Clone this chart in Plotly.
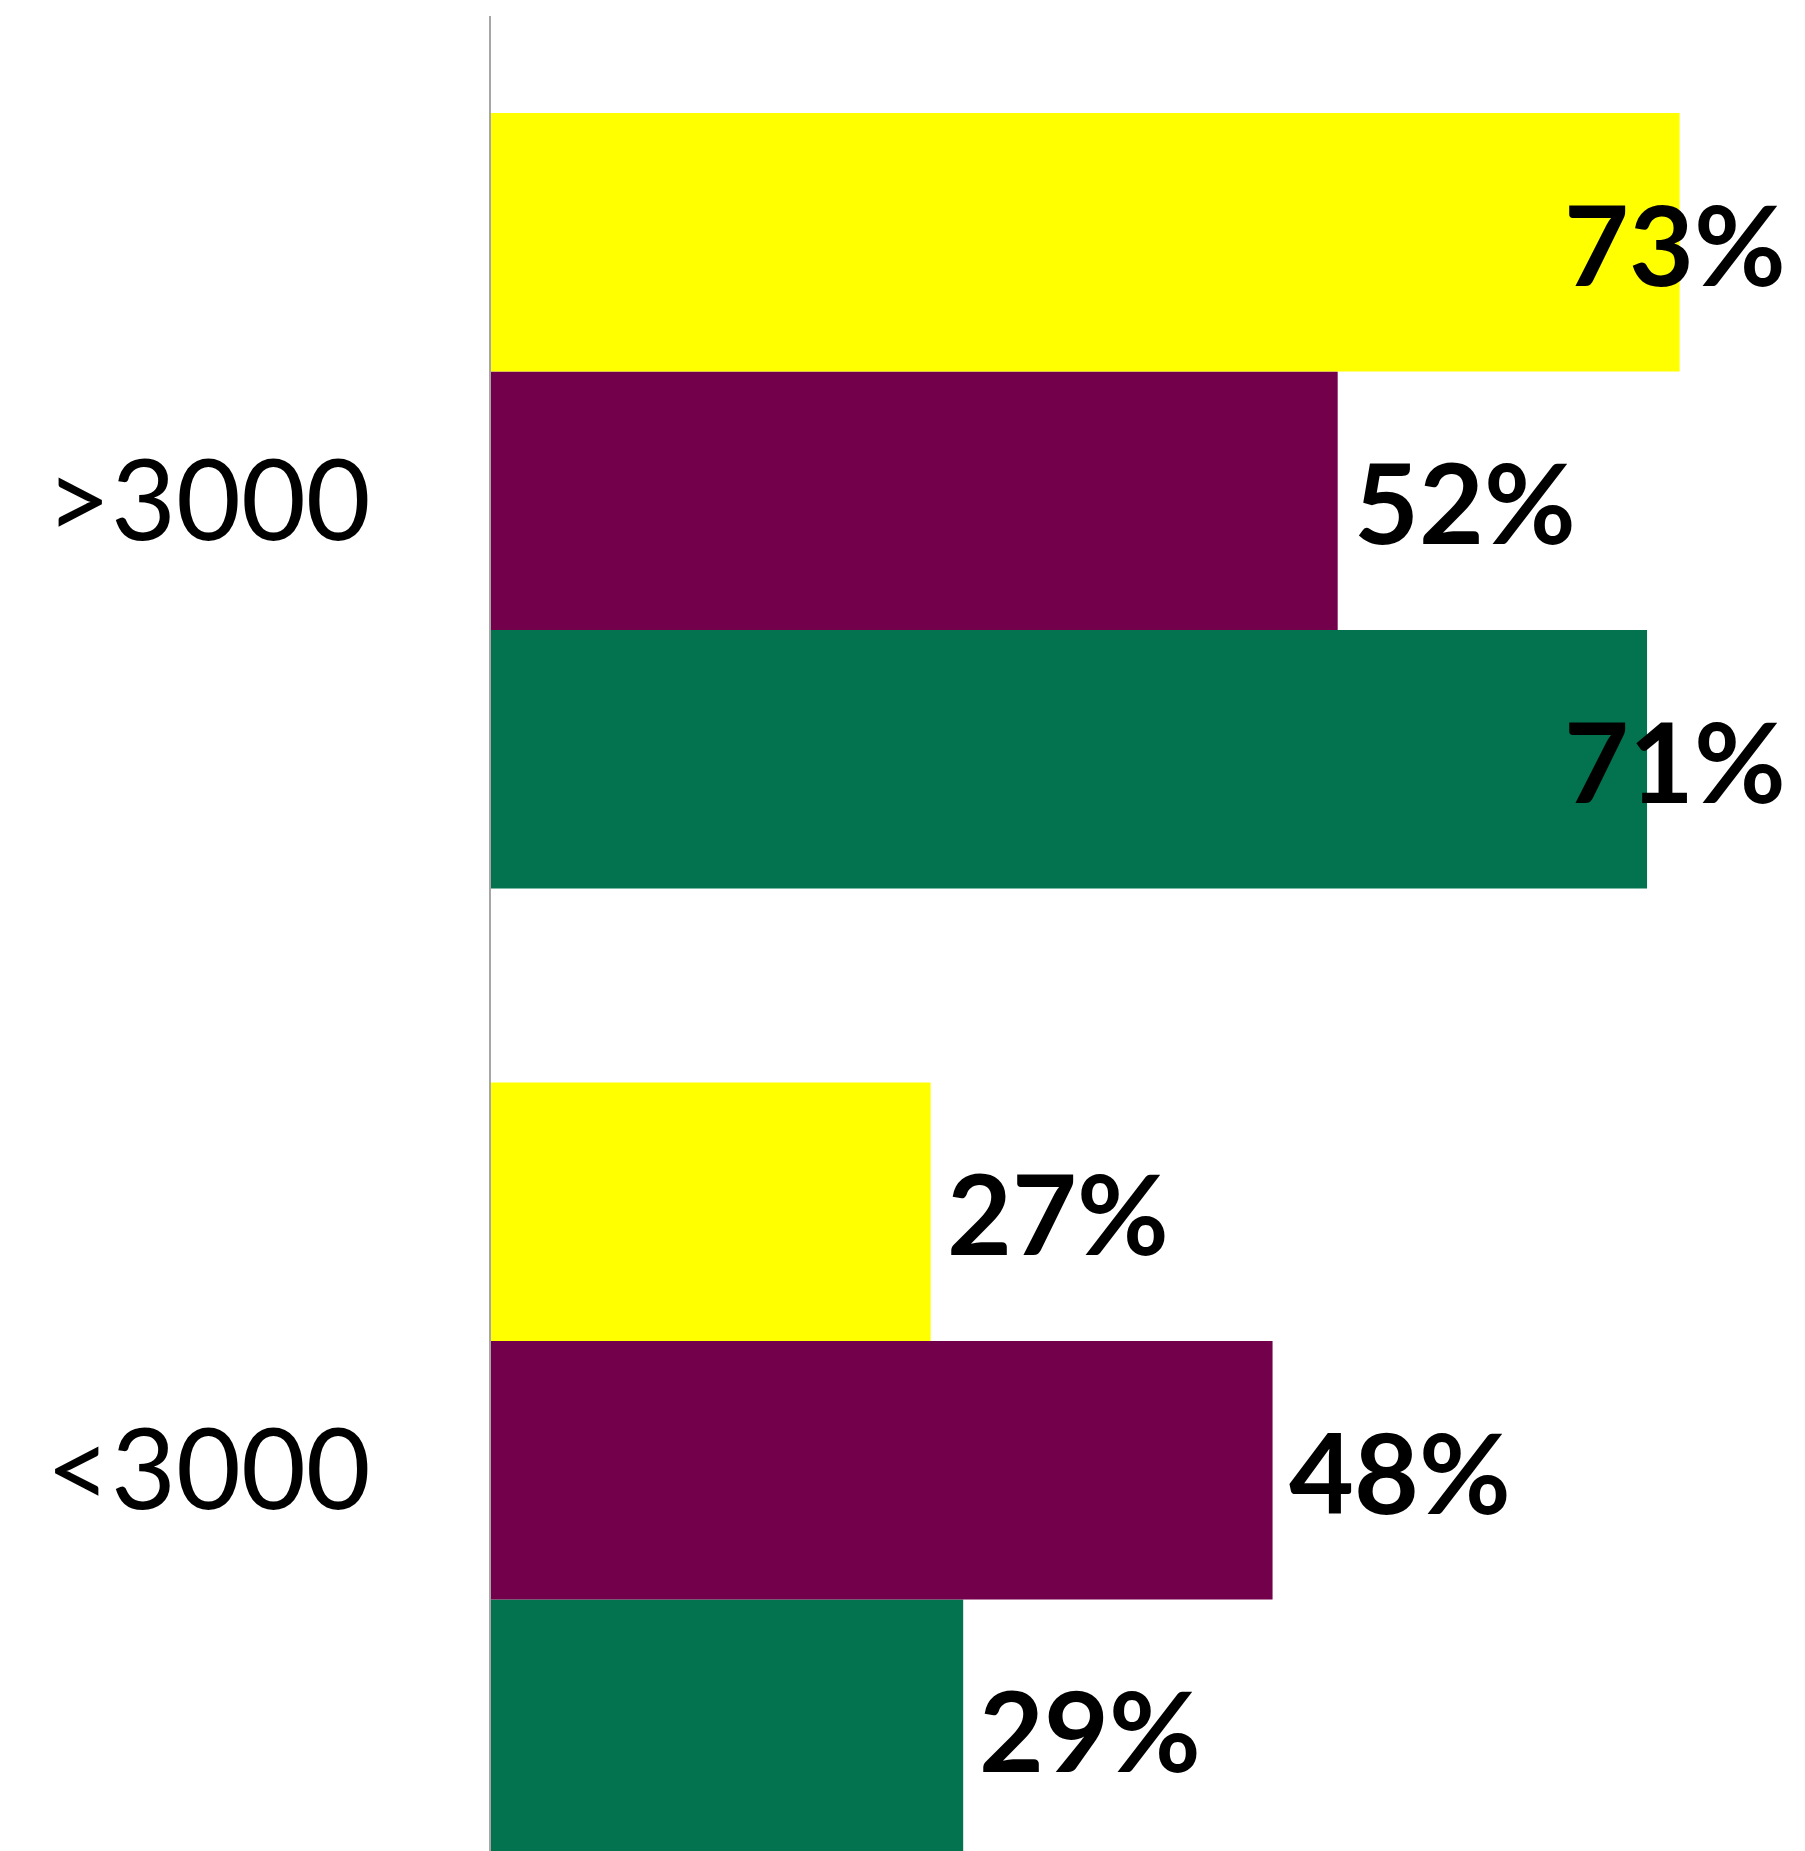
import plotly.graph_objects as go

categories = ["<3000", ">3000"]
series_names = ["Green", "Purple", "Yellow"]  # bottom-to-top within each group
series_values = {
    "Green": [29, 71],
    "Purple": [48, 52],
    "Yellow": [27, 73],
}
series_colors = {
    "Green": "#02734E",
    "Purple": "#72004A",
    "Yellow": "#FFFF00",
}

W, H = 1797, 1843
X_MAX = 80.7
BARGAP = 0.2
LABEL_SIZE = 112

fig = go.Figure()
for name in series_names:
    fig.add_trace(go.Bar(
        y=categories, x=series_values[name], orientation="h",
        marker=dict(color=series_colors[name], line=dict(width=0)),
        name=name, showlegend=False, hoverinfo="skip",
    ))

# value labels (Excel-style outside end, pulled inside when they would overflow)
n = len(series_names)
bar_w = (1 - BARGAP) / n
label_units = 14.5
annotations = []
for i, name in enumerate(series_names):
    offset = -(1 - BARGAP) / 2 + bar_w * (i + 0.5)
    for ci, cat in enumerate(categories):
        v = series_values[name][ci]
        txt = f"{v}%"
        if v + label_units > X_MAX:
            annotations.append(dict(x=X_MAX, y=ci + offset, xref="x", yref="y",
                                    text=f"<b>{txt}</b>", showarrow=False,
                                    xanchor="right", xshift=-17,
                                    font=dict(family="Lato", size=LABEL_SIZE, color="#000")))
        else:
            annotations.append(dict(x=v, y=ci + offset, xref="x", yref="y",
                                    text=f"<b>{txt}</b>", showarrow=False,
                                    xanchor="left", xshift=14,
                                    font=dict(family="Lato", size=LABEL_SIZE, color="#000")))

fig.update_layout(
    width=W, height=H,
    barmode="group", bargap=BARGAP, bargroupgap=0,
    margin=dict(l=483, r=0, t=8, b=0, pad=0),
    paper_bgcolor="white", plot_bgcolor="white",
    annotations=annotations,
    xaxis=dict(range=[0, X_MAX], visible=False, showgrid=False, zeroline=False),
    yaxis=dict(
        type="category", categoryorder="array", categoryarray=categories,
        range=[-0.3927, 1.5],
        showgrid=False, zeroline=False,
        showline=True, linecolor="#A6A6A6", linewidth=1.5,
        ticks="", ticklabelstandoff=96,
        tickfont=dict(family="Lato", size=112, color="#000"),
    ),
)

fig.write_html("out.html")
